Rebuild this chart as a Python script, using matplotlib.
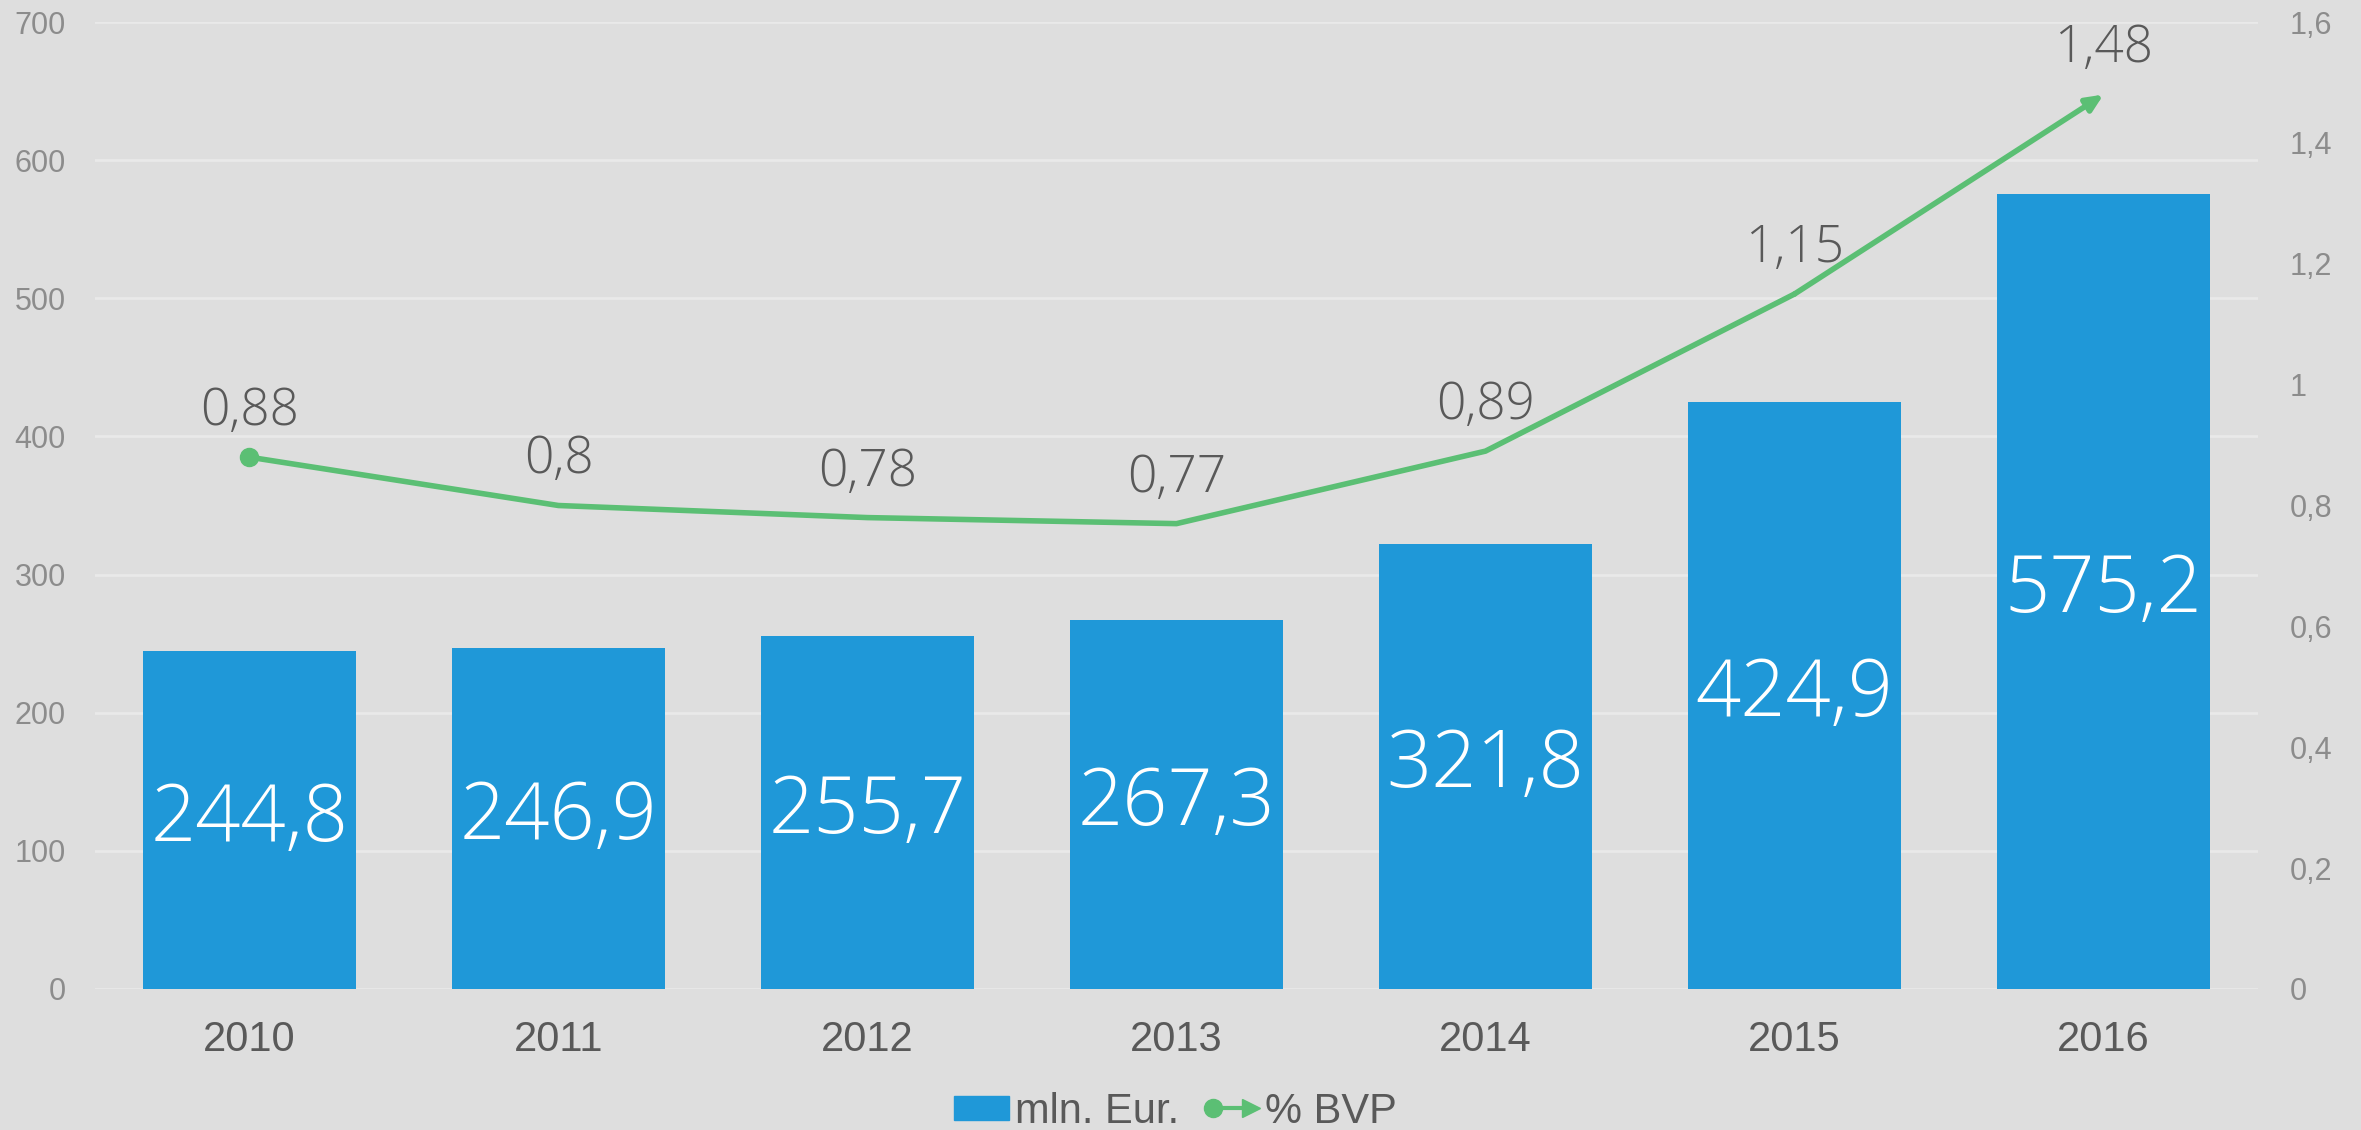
import numpy as np
import matplotlib
matplotlib.use('Agg')
import matplotlib.pyplot as plt
from matplotlib.patches import Patch
from matplotlib.lines import Line2D
from matplotlib.legend_handler import HandlerBase


years = ['2010', '2011', '2012', '2013', '2014', '2015', '2016']
mln_eur = [244.8, 246.9, 255.7, 267.3, 321.8, 424.9, 575.2]
bvp_pct = [0.88, 0.80, 0.78, 0.77, 0.89, 1.15, 1.48]
left_ticks = [0, 100, 200, 300, 400, 500, 600, 700]
right_ticks = [0, 0.2, 0.4, 0.6, 0.8, 1.0, 1.2, 1.4, 1.6]

BG = '#dedede'
BLUE = '#1f98d8'
GREEN = '#5bbf74'
GRID = '#e9e9e9'
TICK = '#8c8c8c'
DARK = '#595959'


def fmt(v: float) -> str:
	s = ('%g' % v)
	return s.replace('.', ',')


class ArrowLineHandler(HandlerBase):
	def create_artists(self, legend, orig_handle, xdescent, ydescent, width, height, fontsize, trans):
		y = height / 2 - ydescent
		x0 = -xdescent
		x1 = -xdescent + width
		line = Line2D([x0 + 6, x1 - 8], [y, y], color=GREEN, lw=3, transform=trans)
		dot = Line2D([x0 + 6], [y], marker='o', markersize=13, color=GREEN, lw=0, transform=trans)
		head = Line2D([x1 - 6], [y], marker='>', markersize=13, color=GREEN, lw=0, transform=trans)
		return [line, dot, head]


def main() -> None:
	plt.rcParams['font.family'] = ['Liberation Sans', 'DejaVu Sans']

	fig = plt.figure(figsize=(23.61, 11.30), dpi=100, facecolor=BG)
	ax = fig.add_axes([0.0402, 0.1248, 0.9162, 0.8557])
	ax.set_facecolor(BG)
	x = np.arange(len(years))

	ax.bar(x, mln_eur, width=0.69, color=BLUE, zorder=2)
	ax.set_xlim(-0.5, len(years) - 0.5)
	ax.set_ylim(0, 700)
	ax.set_yticks(left_ticks)
	ax.set_yticklabels([str(t) for t in left_ticks])
	ax.set_xticks(x)
	ax.set_xticklabels(years)
	ax.grid(axis='y', color=GRID, lw=2, zorder=0)
	ax.set_axisbelow(True)
	for s in ax.spines.values():
		s.set_visible(False)
	ax.tick_params(axis='y', length=0, labelsize=22, labelcolor=TICK, pad=21)
	ax.tick_params(axis='x', length=0, labelsize=30, labelcolor=DARK, pad=22)

	for xi, v in zip(x, mln_eur):
		ax.text(xi, v / 2, fmt(v), ha='center', va='center', color='white',
			fontsize=57, family=['Open Sans', 'DejaVu Sans'], fontweight='light', zorder=3)

	ax2 = ax.twinx()
	ax2.set_ylim(0, 1.6)
	ax2.set_yticks(right_ticks)
	ax2.set_yticklabels([fmt(round(t, 1)) for t in right_ticks])
	for s in ax2.spines.values():
		s.set_visible(False)
	ax2.tick_params(axis='y', length=0, labelsize=22, labelcolor=TICK, pad=23)

	ax2.plot(x[:-1], bvp_pct[:-1], color=GREEN, lw=4, solid_capstyle='round', zorder=4)
	ax2.plot(x[0], bvp_pct[0], marker='o', markersize=13, color=GREEN, zorder=5)
	ax2.annotate('', xy=(x[-1], bvp_pct[-1]), xytext=(x[-2], bvp_pct[-2]),
		arrowprops=dict(arrowstyle='-|>,head_length=1.0,head_width=0.45', color=GREEN, lw=4,
			shrinkA=0, shrinkB=0), zorder=5)

	for xi, v in zip(x, bvp_pct):
		ax2.annotate(fmt(v), (xi, v), xytext=(0, 33), textcoords='offset points',
			ha='center', va='center', color=DARK, fontsize=37,
			family=['Open Sans', 'DejaVu Sans'], fontweight='light', zorder=6)

	handles = [Patch(color=BLUE), Line2D([], [], color=GREEN)]
	fig.legend(handles, ['mln. Eur.', '% BVP'], loc='center', bbox_to_anchor=(0.498, 0.016),
		ncol=2, frameon=False, fontsize=30, labelcolor=DARK, handlelength=1.3, handleheight=0.53,
		handletextpad=0.15, columnspacing=0.62, borderpad=0,
		handler_map={Line2D: ArrowLineHandler()})

	fig.savefig('out.png', dpi=100, facecolor=BG)


if __name__ == '__main__':
	main()
